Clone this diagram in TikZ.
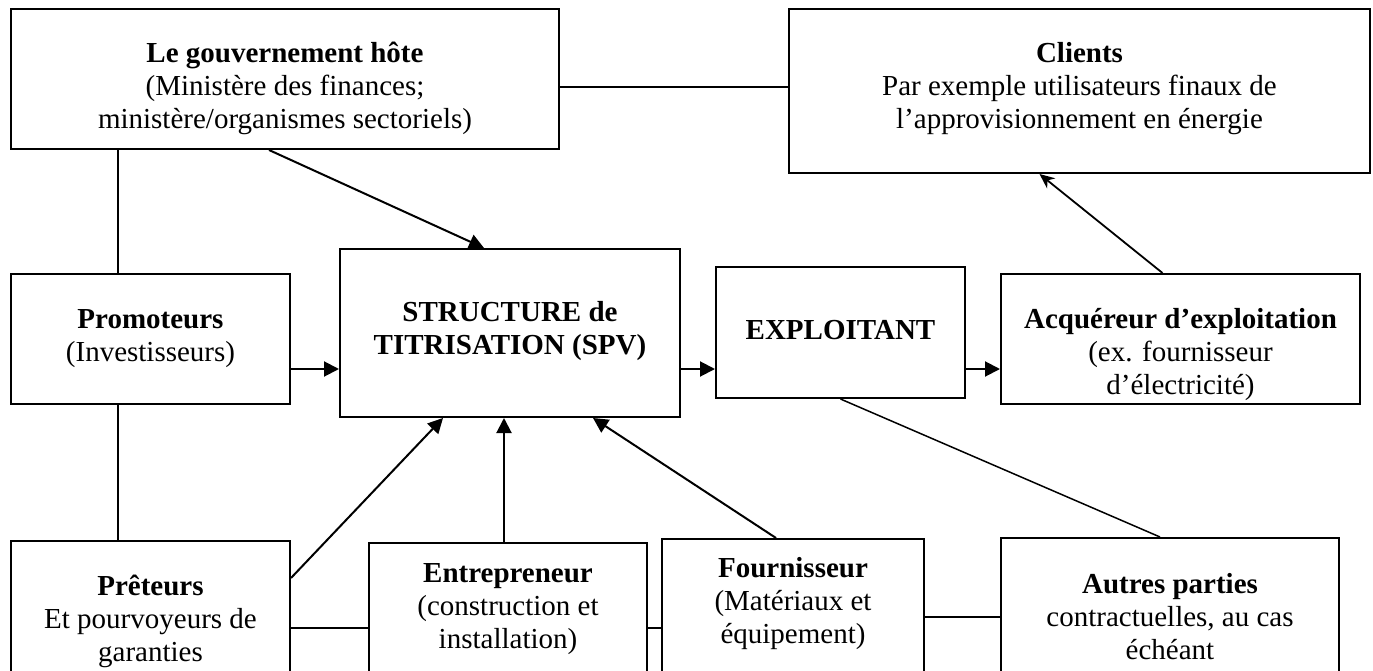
\documentclass[tikz,border=0pt]{standalone}
\usepackage{fontspec}
\setmainfont{Liberation Serif}
\usetikzlibrary{arrows.meta,calc}

\tikzset{
    box/.style={draw, line width=2pt, anchor=north west, align=center,
        inner xsep=0pt, inner ysep=0pt,
        font=\fontsize{29}{33}\selectfont},
    link/.style={line width=2pt},
    thinlink/.style={line width=1.5pt},
    flow/.style={line width=2pt, -{Triangle[length=15pt,width=15pt]}},
    thinflow/.style={line width=1.8pt, -{Stealth[length=15pt,width=13pt]}}
}

\begin{document}
\begin{tikzpicture}[x=1pt, y=-1pt]
        \useasboundingbox (0,0) rectangle (1373,671);
        \clip (0,0) rectangle (1373,671);

        % top row
        \node[box, minimum width=548pt, text height=120pt, text depth=20pt] (gov) at (10,8)
            {\textbf{Le gouvernement hôte}\\(Ministère des finances;\\ministère/organismes sectoriels)};
        \node[box, minimum width=581pt, text height=120pt, text depth=44pt] (clients) at (788,8)
            {\textbf{Clients}\\Par exemple utilisateurs finaux de\\l’approvisionnement en énergie};

        % middle row
        \node[box, minimum width=279pt, text height=87pt, text depth=43pt] (prom) at (10,273)
            {\textbf{Promoteurs}\\(Investisseurs)};
        \node[box, minimum width=340pt, text height=105pt, text depth=63pt] (spv) at (339,248)
            {\textbf{STRUCTURE de}\\\textbf{TITRISATION (SPV)}};
        \node[box, minimum width=249pt, text height=72pt, text depth=59pt] (expl) at (715,266)
            {\textbf{EXPLOITANT}};
        \node[box, minimum width=359pt, text height=120pt, text depth=10pt] (acq) at (1000,273)
            {\textbf{Acquéreur d’exploitation}\\(ex. fournisseur\\d’électricité)};

        % bottom row (runs past the lower edge)
        \node[box, minimum width=279pt, text height=120pt, text depth=40pt] (pret) at (10,540)
            {\textbf{Prêteurs}\\Et pourvoyeurs de\\garanties};
        \node[box, minimum width=278pt, text height=105pt, text depth=53pt] (entr) at (368,542)
            {\textbf{Entrepreneur}\\(construction et\\installation)};
        \node[box, minimum width=262pt, text height=104pt, text depth=58pt] (fourn) at (661,538)
            {\textbf{Fournisseur}\\(Matériaux et\\équipement)};
        \node[box, minimum width=338pt, text height=121pt, text depth=42pt] (autres) at (1000,537)
            {\textbf{Autres parties}\\contractuelles, au cas\\échéant};

        \coordinate (toprow) at (0,87);
        \coordinate (midrow) at (0,369);
        \coordinate (lowrow) at (0,628);
        \coordinate (autrow) at (0,617);
        \coordinate (govcol) at (118,0);

        % plain links
        \draw[link] (gov.east |- toprow) -- (clients.west |- toprow);
        \draw[link] (gov.south -| govcol) -- (prom.north -| govcol);
        \draw[link] (prom.south -| govcol) -- (pret.north -| govcol);
        \draw[link] (pret.east |- lowrow) -- (entr.west |- lowrow);
        \draw[link] (entr.east |- lowrow) -- (fourn.west |- lowrow);
        \draw[link] (fourn.east |- autrow) -- (autres.west |- autrow);
        \draw[thinlink] (expl.south) -- ([xshift=-10pt]autres.north);

        % flows into and out of the SPV
        \draw[flow] ([xshift=-16pt]gov.south) -- ([xshift=-26pt]spv.north);
        \draw[flow] (prom.east |- midrow) -- (spv.west |- midrow);
        \draw[flow] (spv.east |- midrow) -- (expl.west |- midrow);
        \draw[flow] (expl.east |- midrow) -- (acq.west |- midrow);
        \draw[flow] ([yshift=-38pt]pret.north east) -- ([xshift=-67pt]spv.south);
        \draw[flow] ([xshift=-4pt]entr.north) -- ([xshift=-4pt]entr.north |- spv.south);
        \draw[flow] ([xshift=-17pt]fourn.north) -- ([xshift=83pt]spv.south);
        \draw[thinflow] ([xshift=-18pt]acq.north) -- ([xshift=-40pt]clients.south);
    \end{tikzpicture}
\end{document}
